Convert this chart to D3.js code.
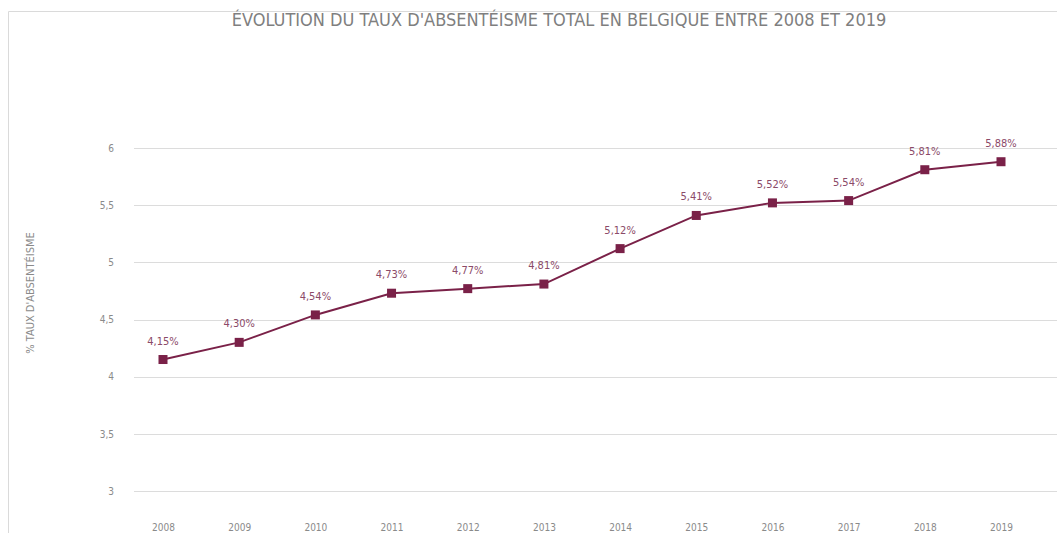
<!DOCTYPE html>
<html>
<head>
<meta charset="utf-8">
<script src="https://cdnjs.cloudflare.com/ajax/libs/d3/7.8.5/d3.min.js"></script>
<style>
	body { margin: 0; background: #fff; }
	svg { display: block; }
	text { font-family: 'DejaVu Sans Condensed', 'Liberation Sans Narrow', sans-serif; }
</style>
</head>
<body>
<script>

// data: taux d'absentéisme total (%), Belgique
var years = ['2008', '2009', '2010', '2011', '2012', '2013', '2014', '2015', '2016', '2017', '2018', '2019'];
var rates = [4.15, 4.30, 4.54, 4.73, 4.77, 4.81, 5.12, 5.41, 5.52, 5.54, 5.81, 5.88];
var yTicks = [3, 3.5, 4, 4.5, 5, 5.5, 6];

var chartTitle = "ÉVOLUTION DU TAUX D'ABSENTÉISME TOTAL EN BELGIQUE ENTRE 2008 ET 2019";
var yTitle = "% TAUX D'ABSENTÉISME";

var W = 1057, H = 533;
var lineColor = '#7a2148',
	gridColor = '#dcdcdc',
	textColor = '#8a8a8a';

var svg = d3.select('body').append('svg')
	.attr('width', W)
	.attr('height', H);

// chart frame (only top and left edges are visible)
svg.append('path')
	.attr('d', 'M8.5,' + H + 'V11.5H' + W)
	.attr('fill', 'none')
	.attr('stroke', '#dadada')
	.attr('stroke-width', 1);

var x = d3.scalePoint()
	.domain(years)
	.range([163, 1001]);

var y = d3.scaleLinear()
	.domain([3, 6])
	.range([491, 148]);

var fmt = function(v) { return d3.format('.2f')(v).replace('.', ',') + '%'; };
var fmtTick = function(v) { return String(v).replace('.', ','); };

// gridlines
svg.append('g')
	.selectAll('line')
	.data(yTicks)
	.join('line')
	.attr('x1', 134)
	.attr('x2', W)
	.attr('y1', function(d) { return Math.round(y(d)) + 0.5; })
	.attr('y2', function(d) { return Math.round(y(d)) + 0.5; })
	.attr('stroke', gridColor)
	.attr('stroke-width', 1);

// y axis labels
var yAxis = d3.axisLeft(y)
	.tickValues(yTicks)
	.tickFormat(fmtTick)
	.tickSize(0)
	.tickPadding(0);

svg.append('g')
	.attr('transform', 'translate(114,0)')
	.call(yAxis)
	.call(function(g) { g.select('.domain').remove(); })
	.selectAll('text')
	.attr('fill', textColor)
	.style('font-size', '10px');

// x axis labels
var xAxis = d3.axisBottom(x)
	.tickSize(0)
	.tickPadding(0);

svg.append('g')
	.attr('transform', 'translate(0,524)')
	.call(xAxis)
	.call(function(g) { g.select('.domain').remove(); })
	.selectAll('text')
	.attr('fill', textColor)
	.style('font-size', '10px');

// title
svg.append('text')
	.attr('x', 559)
	.attr('y', 26)
	.attr('text-anchor', 'middle')
	.attr('fill', '#7f7f7f')
	.style('font-size', '18px')
	.text(chartTitle);

// y axis title
svg.append('text')
	.attr('transform', 'translate(34,293) rotate(-90)')
	.attr('text-anchor', 'middle')
	.attr('fill', textColor)
	.style('font-size', '11px')
	.text(yTitle);

// line
var line = d3.line()
	.x(function(d, i) { return x(years[i]); })
	.y(function(d) { return y(d); });

svg.append('path')
	.datum(rates)
	.attr('d', line)
	.attr('fill', 'none')
	.attr('stroke', lineColor)
	.attr('stroke-width', 2);

// markers
svg.append('g')
	.selectAll('rect')
	.data(rates)
	.join('rect')
	.attr('x', function(d, i) { return x(years[i]) - 4.5; })
	.attr('y', function(d) { return y(d) - 4.5; })
	.attr('width', 9)
	.attr('height', 9)
	.attr('fill', lineColor);

// data labels
svg.append('g')
	.selectAll('text')
	.data(rates)
	.join('text')
	.attr('x', function(d, i) { return x(years[i]); })
	.attr('y', function(d) { return y(d) - 15; })
	.attr('text-anchor', 'middle')
	.attr('fill', '#8b4a68')
	.style('font-size', '11px')
	.text(fmt);

</script>
</body>
</html>
